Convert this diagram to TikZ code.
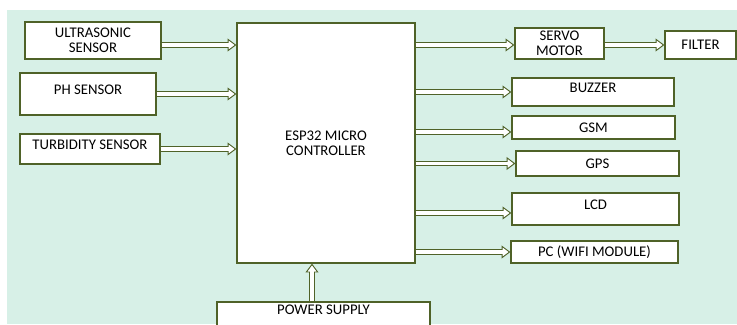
\documentclass[tikz,border=0pt]{standalone}
\usepackage{fontspec}
\setmainfont{Carlito}
\usetikzlibrary{arrows.meta}

\definecolor{boxgreen}{HTML}{4F6228}
\definecolor{mint}{HTML}{D7F0E7}

\tikzset{
  blk/.style={draw=boxgreen, fill=white, line width=1.1pt, inner sep=0pt,
    align=center, font=\fontsize{12.6}{13}\selectfont},
  sz/.style 2 args={minimum width=#1*0.03cm, minimum height=#2*0.03cm},
  raised/.style={text height=8pt, text depth=7pt},
  arr/.style={draw=boxgreen, line width=4.4pt,
    -{Triangle[open, fill=white, line width=0.8pt, length=7.5pt 0, width=11pt 0]},
    postaction={draw=white, line width=2.8pt, -, shorten >=6pt}}
}

\begin{document}
\begin{tikzpicture}[x=0.03cm,y=-0.03cm]
  \useasboundingbox (0,0) rectangle (737,324);
  \fill[mint] (7,10) rectangle (737,324);

  % inputs
  \node[blk, sz={136}{37}] (us) at (93,40.5) {ULTRASONIC\\SENSOR};
  \node[blk, sz={136}{42}, raised] (ph) at (88,94) {PH SENSOR};
  \node[blk, sz={140}{30}, raised] (tb) at (90,149) {TURBIDITY SENSOR};

  % controller
  \node[blk, sz={178}{240}] (esp) at (326,143) {ESP32 MICRO\\CONTROLLER};
  \node[blk, sz={213}{24}, raised] (pw) at (323.5,314) {POWER SUPPLY};

  % outputs
  \node[blk, sz={89}{31}] (servo) at (559.5,43.5) {SERVO\\MOTOR};
  \node[blk, sz={71}{28}] (filter) at (700.5,45) {FILTER};
  \node[blk, sz={162}{28}, raised] (buzz) at (593,92) {BUZZER};
  \node[blk, sz={163}{23}] (gsm) at (593.5,127.5) {GSM};
  \node[blk, sz={163}{25}] (gps) at (597.5,163.5) {GPS};
  \node[blk, sz={167}{32}, raised] (lcd) at (595.5,209) {LCD};
  \node[blk, sz={167}{22}] (pc) at (594.5,252) {PC (WIFI MODULE)};

  % arrows
  \draw[arr] (us.east |- 0,45) -- (esp.west |- 0,45);
  \draw[arr] (ph.east) -- (esp.west |- ph.east);
  \draw[arr] (tb.east) -- (esp.west |- tb.east);
  \draw[arr] (esp.east |- 0,45) -- (servo.west |- 0,45);
  \draw[arr] (servo.east |- 0,45) -- (filter.west);
  \draw[arr] (esp.east |- buzz.west) -- (buzz.west);
  \draw[arr] (esp.east |- 0,132) -- (gsm.west |- 0,132);
  \draw[arr] (esp.east |- gps.west) -- (gps.west);
  \draw[arr] (esp.east |- 0,213) -- (lcd.west |- 0,213);
  \draw[arr] (esp.east |- pc.west) -- (pc.west);
  \draw[arr] (pw.north -| 312,0) -- (esp.south -| 312,0);
\end{tikzpicture}
\end{document}
